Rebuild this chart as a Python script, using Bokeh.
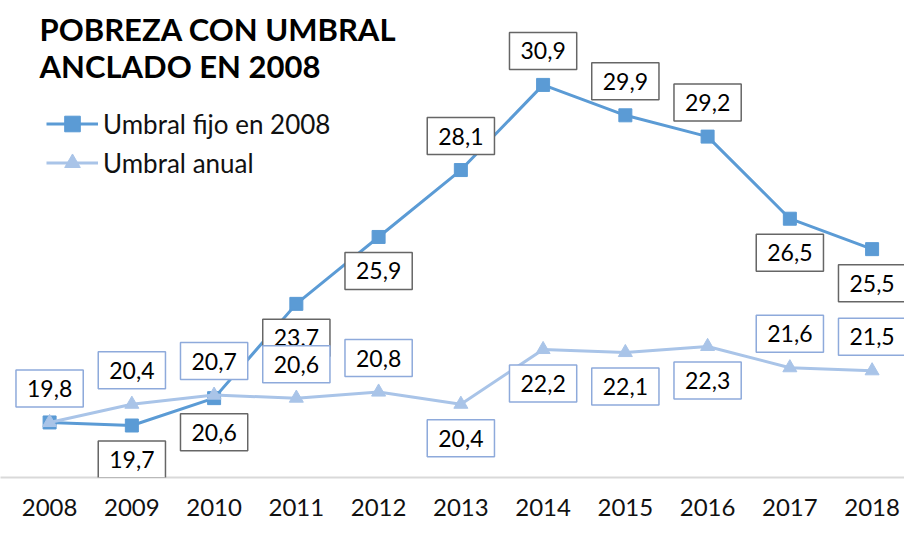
from bokeh.plotting import figure
from bokeh.models import Range1d, Label, Legend, LegendItem, FixedTicker
from bokeh.embed import file_html
from bokeh.resources import INLINE

# ---- data ----
years = [2008, 2009, 2010, 2011, 2012, 2013, 2014, 2015, 2016, 2017, 2018]
fixed_2008 = [19.8, 19.7, 20.6, 23.7, 25.9, 28.1, 30.9, 29.9, 29.2, 26.5, 25.5]
annual = [19.8, 20.4, 20.7, 20.6, 20.8, 20.4, 22.2, 22.1, 22.3, 21.6, 21.5]
series_names = ["Umbral fijo en 2008", "Umbral anual"]
title_lines = ["POBREZA CON UMBRAL", "ANCLADO EN 2008"]

# label placement (1 above, -1 below, 0 none)
fixed_place = [0, -1, -1, -1, -1, 1, 1, 1, 1, -1, -1]
annual_place = [1, 1, 1, 1, 1, -1, -1, -1, -1, 1, 1]

FONT = "Lato"
C_FIXED = "#5B9BD5"
C_ANNUAL = "#A9C4E8"
B_FIXED = "#666666"
B_ANNUAL = "#8EAADB"


def fmt(v):
    return f"{v:.1f}".replace(".", ",")


p = figure(width=904, height=522, output_backend="svg", toolbar_location=None,
           x_range=Range1d(2007.403, 2018.394), y_range=Range1d(17.99, 33.676),
           y_axis_location=None, min_border_left=0, min_border_right=0,
           min_border_top=0, min_border_bottom=45)
p.outline_line_color = None
p.grid.visible = False
p.background_fill_color = "white"

ax = p.xaxis[0]
ax.ticker = FixedTicker(ticks=years)
ax.axis_line_color = "#d9d9d9"
ax.axis_line_width = 2
ax.major_tick_line_color = None
ax.minor_tick_line_color = None
ax.major_label_text_font = FONT
ax.major_label_text_font_size = "24px"
ax.major_label_text_color = "#111111"
ax.major_label_standoff = 15

r1 = p.line(years, fixed_2008, color=C_FIXED, line_width=3)
r1m = p.scatter(years, fixed_2008, marker="square", size=13, color=C_FIXED)
r2 = p.line(years, annual, color=C_ANNUAL, line_width=3)
r2m = p.scatter(years, annual, marker="triangle", size=14, color=C_ANNUAL)

legend = Legend(items=[LegendItem(label=series_names[0], renderers=[r1, r1m]),
                       LegendItem(label=series_names[1], renderers=[r2, r2m])],
                location=(46, 295), border_line_color=None, background_fill_alpha=0,
                glyph_width=52, glyph_height=39, label_height=39, spacing=0,
                padding=0, margin=0, label_standoff=5,
                label_text_font=FONT, label_text_font_size="26px",
                label_text_color="#111111")
p.add_layout(legend)


def add_labels(vals, places, border):
    for x, v, pl in zip(years, vals, places):
        if pl == 0:
            continue
        p.add_layout(Label(x=x, y=v, text=fmt(v), y_offset=34 * pl,
                           text_align="center", text_baseline="middle",
                           text_font=FONT, text_font_size="23px", text_color="#000000",
                           background_fill_color="white", border_line_color=border,
                           border_line_width=1.5, padding=(11, 10)))


add_labels(fixed_2008, fixed_place, B_FIXED)
add_labels(annual, annual_place, B_ANNUAL)

for i, t in enumerate(title_lines):
    p.add_layout(Label(x=39, y=477 - 28 - 37 * i, x_units="screen", y_units="screen", text=t,
                       text_font=FONT, text_font_style="bold", text_font_size="31px",
                       text_color="#000000", text_baseline="middle"))

open("out.html", "w").write(file_html(p, INLINE))
